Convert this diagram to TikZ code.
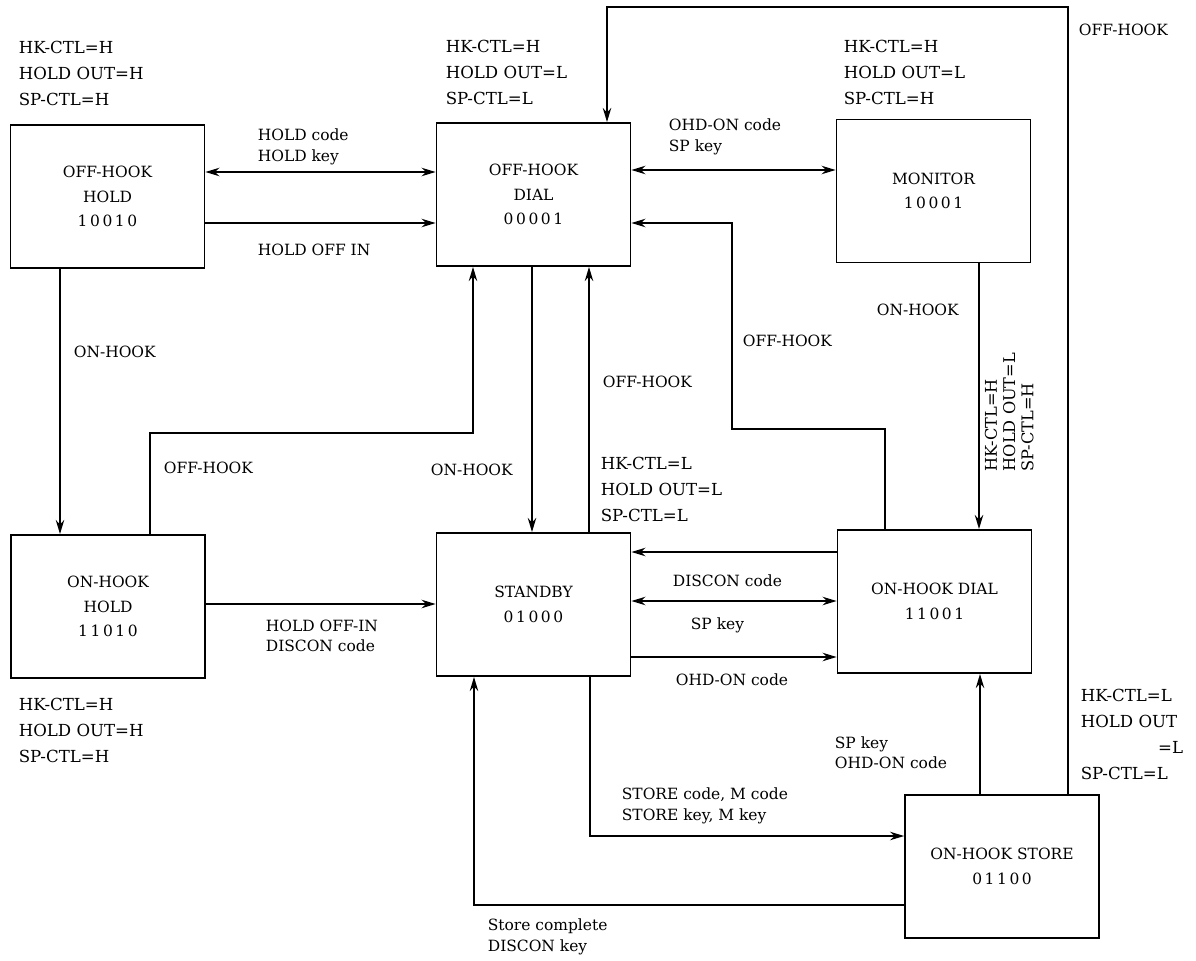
\documentclass[tikz,border=0pt]{standalone}
\usepackage{fontspec}
\setmainfont{DejaVu Serif}
\usetikzlibrary{arrows.meta}

\begin{document}
\begin{tikzpicture}[x=0.025cm, y=-0.025cm, line width=1.2pt,
    mode/.style={draw, minimum width=4.85cm, minimum height=3.58cm, align=center},
    cond/.style={anchor=west, align=left, font=\fontsize{11.8}{18.5}\selectfont},
    tag/.style={anchor=west, align=left, font=\fontsize{11}{14.5}\selectfont},
    go/.style={-{Stealth[length=10pt, width=6pt]}},
    both/.style={{Stealth[length=10pt, width=6pt]}-{Stealth[length=10pt, width=6pt]}}]
      \tikzstyle{every node}+=[inner sep=0pt, font=\fontsize{11}{17.5}\selectfont]
      \useasboundingbox (0,0) rectangle (1196,960);
      \node [mode] (ohh) at (107.5,196.5) {OFF-HOOK\\HOLD\\1\,0\,0\,1\,0};
      \node [mode] (ohd) at (533.5,194.5) {OFF-HOOK\\DIAL\\0\,0\,0\,0\,1};
      \node [mode] (mon) at (933.5,191) {MONITOR\\1\,0\,0\,0\,1};
      \node [mode] (onh) at (108,606.5) {ON-HOOK\\HOLD\\1\,1\,0\,1\,0};
      \node [mode] (sb) at (533.5,604.5) {STANDBY\\0\,1\,0\,0\,0};
      \node [mode] (ond) at (934.5,601.5) {ON-HOOK DIAL\\1\,1\,0\,0\,1};
      \node [mode] (ons) at (1002,866.5) {ON-HOOK STORE\\0\,1\,1\,0\,0};
      \node [cond] (ohhout) at (18,73) {HK-CTL=H\\HOLD OUT=H\\SP-CTL=H};
      \node [cond] (ohdout) at (445,72) {HK-CTL=H\\HOLD OUT=L\\SP-CTL=L};
      \node [cond] (monout) at (843,72) {HK-CTL=H\\HOLD OUT=L\\SP-CTL=H};
      \node [cond] (onhout) at (18,730) {HK-CTL=H\\HOLD OUT=H\\SP-CTL=H};
      \node [cond] (sbout) at (600,489) {HK-CTL=L\\HOLD OUT=L\\SP-CTL=L};
      \node [cond] (onsout) at (1080,734) {HK-CTL=L\\HOLD OUT\\\hspace*{55pt}=L\\SP-CTL=L};
      \node [cond, anchor=north west, rotate=90, font=\fontsize{11.5}{13}\selectfont] (ondout) at (984,472) {HK-CTL=H\\HOLD OUT=L\\SP-CTL=H};
      \draw [both] (ohh.east |- 0,172) -- (ohd.west |- 0,172);
      \node [tag] (holdcode) at (257,147) {HOLD code\\HOLD key};
      \draw [go] (ohh.east |- 0,223) -- (ohd.west |- 0,223);
      \node [tag] (holdoffin) at (257,250) {HOLD OFF IN};
      \draw [both] (ohd.east |- 0,170) -- (mon.west |- 0,170);
      \node [tag] (ohdon) at (668,137) {OHD-ON code\\SP key};
      \draw [go] (60,0 |- ohh.south) -- (60,0 |- onh.north);
      \node [tag] (onhook1) at (73,352) {ON-HOOK};
      \draw [go] (150,0 |- onh.north) -- (150,433) -- (473,433) -- (473,0 |- ohd.south);
      \node [tag] (offhook1) at (163,468) {OFF-HOOK};
      \draw [go] (532,0 |- ohd.south) -- (532,0 |- sb.north);
      \node [tag] (onhook2) at (430,470) {ON-HOOK};
      \draw [go] (589,0 |- sb.north) -- (589,0 |- ohd.south);
      \node [tag] (offhook2) at (602,382) {OFF-HOOK};
      \draw [go] (885,0 |- ond.north) -- (885,429) -- (732,429) -- (732,223) -- (ohd.east |- 0,223);
      \node [tag] (offhook3) at (742,341) {OFF-HOOK};
      \draw [go] (979,0 |- mon.south) -- (979,0 |- ond.north);
      \node [tag] (onhook3) at (876,310) {ON-HOOK};
      \draw [go] (1068,0 |- ons.north) -- (1068,7) -- (607,7) -- (607,0 |- ohd.north);
      \node [tag] (offhook4) at (1078,30) {OFF-HOOK};
      \draw [go] (ond.west |- 0,552) -- (sb.east |- 0,552);
      \draw [both] (sb.east |- 0,601) -- (ond.west |- 0,601);
      \node [tag] (discon) at (672,581) {DISCON code};
      \node [tag] (spkey) at (690,625) {SP key};
      \draw [go] (sb.east |- 0,657) -- (ond.west |- 0,657);
      \node [tag] (ohdon2) at (675,680) {OHD-ON code};
      \draw [go] (onh.east |- 0,604) -- (sb.west |- 0,604);
      \node [tag] (holdoffin2) at (265,636) {HOLD OFF-IN\\DISCON code};
      \draw [go] (590,0 |- sb.south) -- (590,836) -- (ons.west |- 0,836);
      \node [tag] (store) at (621,806) {STORE code, M code\\STORE key, M key};
      \draw [go] (ons.west |- 0,905) -- (474,905) -- (474,0 |- sb.south);
      \node [tag] (complete) at (487,937) {Store complete\\DISCON key};
      \draw [go] (980,0 |- ons.north) -- (980,0 |- ond.south);
      \node [tag] (spkey2) at (834,753) {SP key\\OHD-ON code};
\end{tikzpicture}
\end{document}
